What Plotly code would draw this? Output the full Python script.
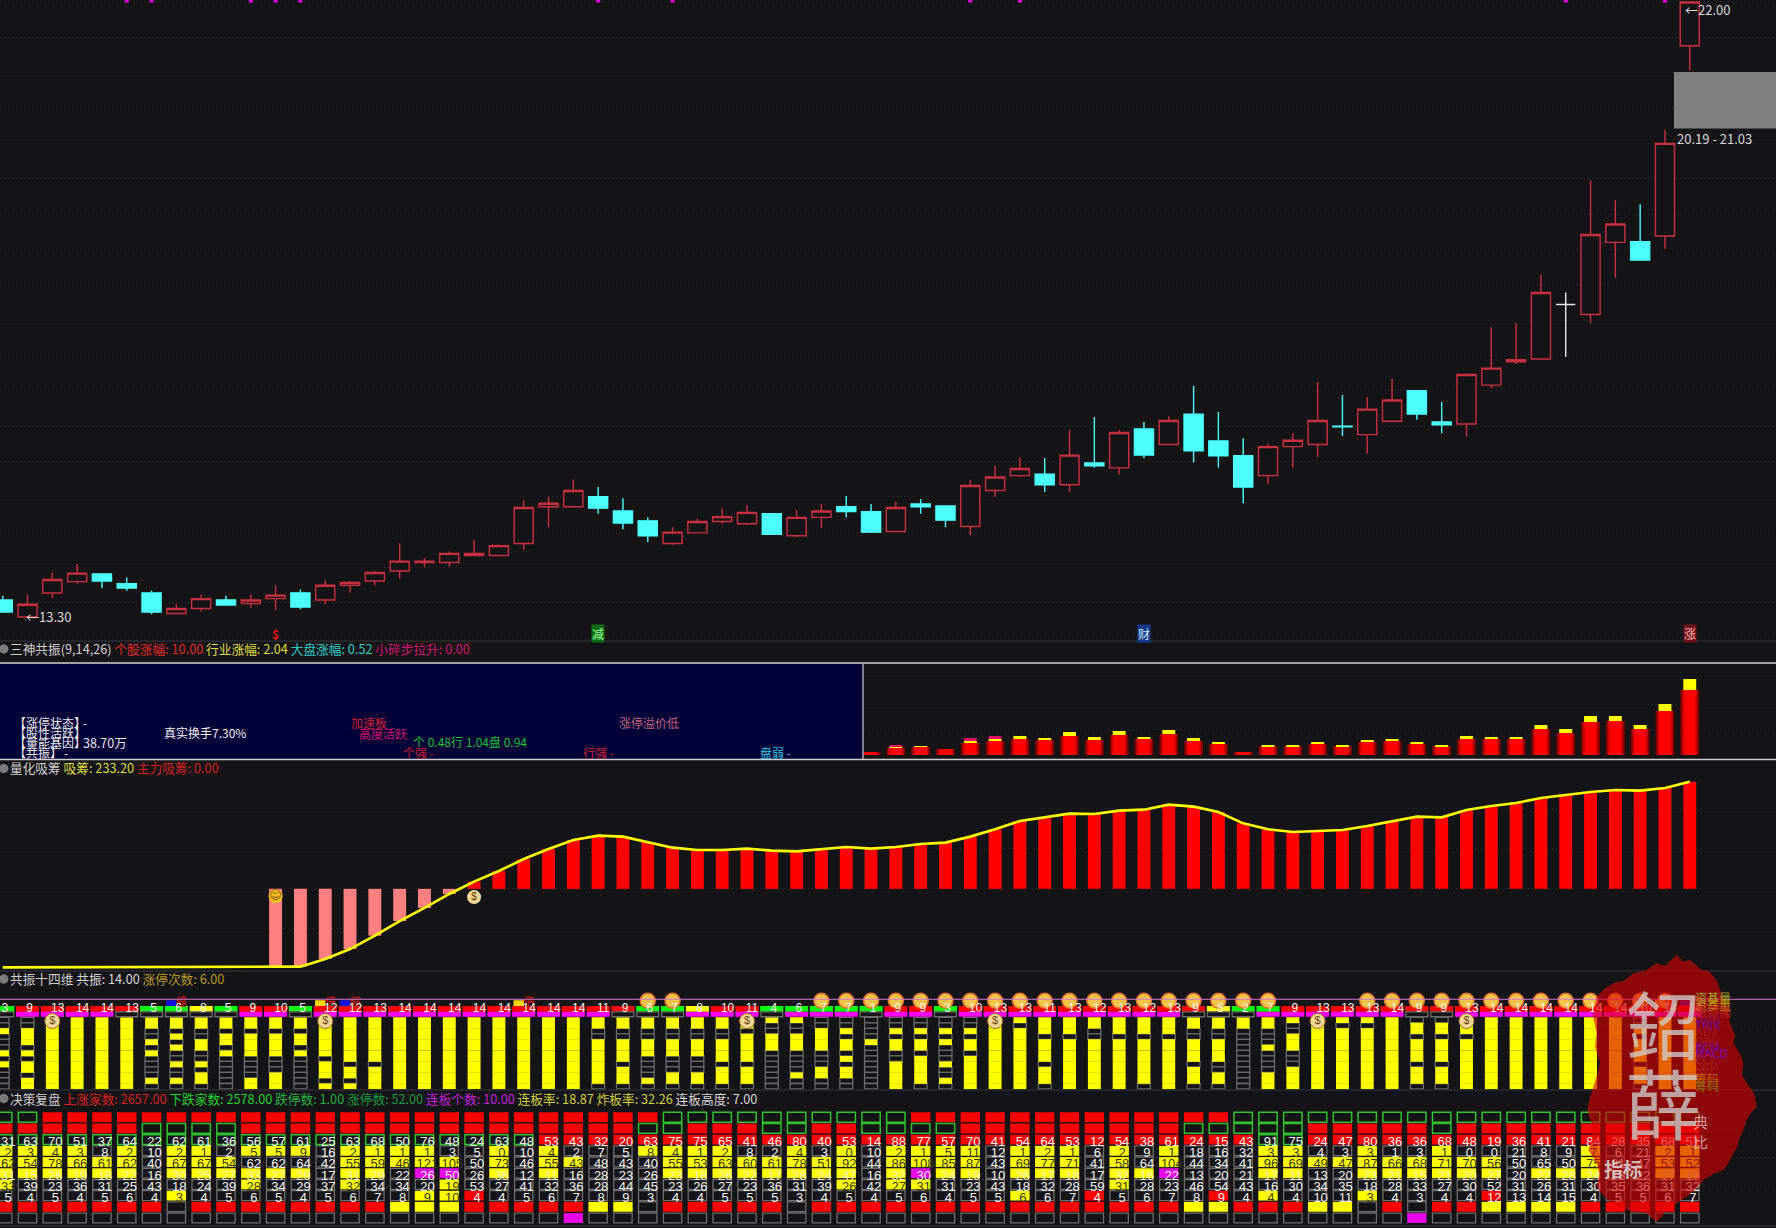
import plotly.graph_objects as go

W, H = 1776, 1228
BG = "#141416"
FONT = "Noto Sans CJK SC"

# ---------- main price panel ----------
opens = [13.54,13.30,13.64,13.80,13.91,13.77,13.64,13.35,13.42,13.54,13.49,13.56,13.64,13.54,13.75,13.81,13.95,14.07,14.07,14.17,14.17,14.34,14.86,14.86,15.00,14.80,14.66,14.34,14.49,14.65,14.62,14.76,14.45,14.71,14.86,14.79,14.51,14.90,14.87,14.58,15.09,15.30,15.32,15.17,15.48,15.41,15.96,15.74,16.17,15.79,15.58,15.30,15.71,15.74,16.00,15.88,16.07,16.50,16.06,16.03,16.58,16.91,16.95,17.72,17.58,18.60,18.61,18.69,21.38]
highs = [13.60,13.62,13.93,14.05,13.92,13.86,13.67,13.48,13.62,13.60,13.62,13.75,13.69,13.82,13.81,13.95,14.34,14.13,14.23,14.39,14.33,14.96,15.00,15.24,15.14,14.98,14.71,14.57,14.69,14.84,14.88,14.76,14.81,14.90,15.01,14.90,14.93,14.97,14.88,15.24,15.44,15.56,15.55,15.95,16.13,15.95,16.06,16.14,16.57,16.20,15.83,15.75,15.90,16.62,16.44,16.41,16.67,16.51,16.34,16.73,17.40,17.46,18.14,17.89,19.48,19.20,19.14,20.19,22.00]
lows = [13.37,13.30,13.57,13.77,13.71,13.67,13.34,13.35,13.38,13.47,13.43,13.40,13.41,13.48,13.64,13.75,13.84,14.01,14.01,14.17,14.17,14.25,14.57,14.86,14.76,14.54,14.36,14.32,14.48,14.62,14.60,14.46,14.43,14.56,14.71,14.49,14.51,14.76,14.57,14.46,15.00,15.28,15.07,15.07,15.41,15.32,15.55,15.74,15.49,15.41,14.91,15.18,15.41,15.56,15.86,15.61,16.07,16.09,15.90,15.85,16.54,16.88,16.95,16.98,17.46,18.10,18.34,18.51,21.03]
closes = [13.37,13.48,13.83,13.92,13.81,13.71,13.37,13.42,13.56,13.47,13.54,13.61,13.44,13.75,13.79,13.93,14.09,14.09,14.20,14.20,14.31,14.85,14.91,15.09,14.84,14.63,14.45,14.50,14.65,14.72,14.78,14.47,14.71,14.80,14.79,14.50,14.85,14.86,14.67,15.16,15.28,15.40,15.17,15.59,15.44,15.91,15.59,16.08,15.65,15.58,15.14,15.71,15.80,16.08,15.99,16.24,16.37,16.17,16.02,16.73,16.82,16.94,17.89,17.72,18.71,18.86,18.35,20.00,22.00]
days = list(range(len(opens)))
doji_days = [63]
top_marks = [5, 6, 10, 11, 12, 24, 27, 39, 41, 63, 67]
price_ticks = [13 + 0.5 * k for k in range(19)]
gap_low, gap_high = 20.19, 21.03
signal_days = [11, 24, 46, 68]
signal_text = ["<b>$</b>", "减", "财", "涨"]
signal_text_color = ["#e01010", "#9aff9a", "#c8e8ff", "#ffb0b0"]
signal_bg = ["rgba(0,0,0,0)", "#0a6a14", "#123a8a", "#701018"]

# ---------- 三神共振 ----------
res_days = list(range(35, 69))
res_stock = [0.46,1.08,1.23,0.92,1.85,2.15,2.46,2.31,2.92,2.31,3.08,2.46,3.23,2.15,1.69,0.46,1.38,1.38,1.69,1.38,2.00,2.15,1.69,1.38,2.46,2.46,2.46,4.00,3.38,5.08,5.23,4.00,6.77,10.00]
res_sector = [0,0.15,0.15,0,0.31,0.31,0.46,0.31,0.62,0.46,0.62,0.31,0.62,0.46,0.31,0,0.15,0.15,0.31,0.15,0.31,0.31,0.31,0.15,0.46,0.31,0.31,0.62,0.62,0.92,0.77,0.62,1.08,1.69]
res_market = [0,0.31,0,0,0.46,0.46] + [0] * 28

# ---------- 量化吸筹 ----------
accum_line = [1.2]*11 + [2.1,2.1,11.6,24.1,40.8,59.1,75.4,92.9,108.3,121.6,136.6,149.1,160.4,165.8,164.6,157.9,150.8,147.9,147.9,149.6,147.1,146.2,148.7,151.6,149.6,151.6,155.4,157.1,164.6,173.7,184.2,188.7,193.3,192.9,197.1,198.3,204.6,202.1,195.4,181.2,173.7,170.4,171.2,172.9,177.9,184.2,189.6,188.7,197.9,202.9,206.7,212.9,217.1,220.4,222.9,222.1,225.4,233.2]
accum_base = 99.3
accum_first_bar = 11
accum_first_red = 19

# ---------- 共振十四维 ----------
res14_labels = [3,9,13,14,14,13,5,6,8,5,9,10,5,12,12,13,14,14,14,14,14,14,14,14,11,9,6,7,8,10,11,4,6,7,7,1,9,9,3,10,13,13,11,13,12,13,12,13,9,8,2,7,9,13,13,13,14,9,9,13,14,14,14,14,14,14,10,14,14]
res14_top = "GRRRRRGGYGRRGRRRRRRRRRRRRRGGYRRGGGGGRRGRRRRRRRRRRYGGRRRRRRRRRRRRRRRRR"[:69]
res14_second = "HMMMMHHHHHMMHMMMMMMMMMMMMHHHMMMHMMMHMMHMMMMMMMMMHHHMMMMMMHHMMMMMMMMMM"[:69]
res14_cells = ["HHYHHHYHYHHHH","HHYYYHYHYYHYY","YYYYYYYYYYYYY","YYYYYYYYYYYYY","YYYYYYYYYYYYY","YYYYYYYYYYYYY","YYHHYHYHHHHYH","YYHYHYHHYHHYH","YYHHYYHHYHYYH","YYHYYHYHHHHHH","YYHYYYYHHHHYY","YYHYYYYHHHYYY","YYHYYHYHHHHHH","YYYYYYYHYYYHY","YYYYYYYYHYYHY","YYYYYYYYHYYYY","YYYYYYYYYYYYY","YYYYYYYYYYYYY","YYYYYYYYYYYYY","YYYYYYYYYYYYY","YYYYYYYYYYYYY","YYYYYYYYYYYYY","YYYYYYYYYYYYY","YYYYYYYYYYYYY","YYHHYYYYYYYYH","YYHHYYYYHYYYH","YYHHYYYHHHHYH","YYHHYYYHHHYYH","YYHHYYYHHHYYH","YYHHYYYYHYYYH","YYHYYYYYHYYYH","YHHYYYHHHHHHH","YHHYYYHHHHYHH","HHYYYYHHHYYHH","HHYHYYHYHYYHH","HHHHYHHHHHHHH","HHYHYYHHYYYYY","HHYHYYHYYYYYH","HHYHYHHHYHHYH","HHYHYYHYYYYYY","YYYYYYYYYYYYY","YHYYYYYYYYYYY","YYYHYYYYHYYYH","YYYHYYYYYYYYY","YYHHYYYYYYYYY","YYYHYYYYYYYYY","YYYHYYYYYYYYH","YYYHYYYYYYYYY","YYHHYYYYHYYYH","YYHHYYYYHHYYH","YYHHHHHHHHHHH","YYHHHYHHHHYYY","YHHYYYHHHYYYY","YYYYYYYYYYYYY","YHYYYYYYYYYYY","YHYYYYYYYYYYY","YYYYYYYYYYYYY","HYYHYYYYHYYYH","HYYHYYYYHYYYH","YYYHYYYYYYYYY","YYYYYYYYYYYYY","YYYYYYYYYYYYY","YYYYYYYYYYYYY","YYYYYYYYYYYYY","YYYYYYYYYYYYY","YYYYYYYYYYYYY","HHYHYYYYHYYYH","YYYYYYYYYYYYY","YYYYYYYYYYYYY"]
smile_days = [26,27,33,34,35,36,37,38,39,40,41,42,43,44,45,46,47,48,49,50,51,55,56,57,58,59,60,61,62,63,64,65,66,67]
bag_days = [2,13,30,40,53,59]
flag_days = [7,13,14,21,67,68]
flag_text = ["缩","倍","缩","倍","倍","缩"]
flag_color = ["#1010e0","#ffd800","#1010e0","#ffd800","#ffd800","#5000a0"]

# ---------- 决策复盘 ----------
board_cells = ["GRGYYYYHRH","GRGYYYHHRH","RRGYYYHHRH","RRGYYYHHRH","RRGHYYHHRH","RRGYYYHHRH","RGGHHHHHRH","RGGYYYHYHH","RGGYYYHHRH","RGGHYYHHRH","RRGYHYYHRH","RRGYHYHHRH","RRGYHYHHRH","RRGHHHHHRH","RRGYYYYHRH","RRGYYYHHRH","RRGYYHHHYH","RRGYYMHYYH","RRGHYMYYYH","RRGHHHHRRH","RRGYYYHHRH","RRGHHHHHRH","RRRYYYHHRH","RRRHYHHHRM","RRRHHHHHYH","RRRHHHHHYH","RGRYHHHHHH","GGRYYYHHRH","GRRYYYHHRH","GRRYYYHHRH","GRRHYYHHRH","GGRHYYHHRH","GGRYYYHHHH","GRRHYYHHRH","GRRYYYYHRH","GGRHHHHHRH","GGRYYYYHRH","RGRYYMYHRH","RGRYYYHHRH","RRRYYYHHRH","RRRHHHHHRH","RRRYYYHYRH","RRRYYYHHRH","RRRYYYHHRH","RRRHHHHRRH","RRRYYYYHRH","RRRHHYHHRH","RRRYYMHHRH","RGRHHHHHYH","RGRHHHHRYH","GGRHHHHHRH","GGGYYYHYRH","GGGYYYHHRH","GRRHYHHHYH","GRRHYHHHYH","GRRYYYHYHH","GRRHYYHHRH","GRRHYYHHHM","GGRYYYHHRH","GRRHYYHHRH","GRRHYYHRYH","GRRHHHHHYH","GRRHHYHHYH","GRRHHYHHYH","GRRYYYHHRH","GRRHHHHHRH","GRRHHHHHRH","GRRYYYHHRH","GRRYYYHHRH"]
board_numbers = [[31,2,62,31,33,5],[63,3,54,15,39,4],[70,4,78,26,23,5],[51,3,66,19,36,4],[37,8,61,18,31,5],[64,2,62,22,25,6],[22,10,40,16,43,4],[62,2,67,30,18,3],[61,1,67,25,24,4],[36,2,54,27,39,5],[56,5,62,33,28,6],[57,5,62,27,34,5],[61,9,64,29,29,4],[25,16,42,17,37,5],[63,2,55,31,32,6],[68,1,59,29,34,7],[50,1,46,22,34,8],[76,1,121,26,20,9],[48,3,105,50,19,10],[24,5,50,26,53,4],[63,0,73,36,27,4],[48,10,46,12,41,5],[53,4,55,11,32,6],[43,2,43,16,36,7],[32,7,48,28,28,8],[20,5,43,23,44,9],[63,8,40,26,45,3],[75,4,55,23,23,4],[75,1,53,18,26,4],[65,2,63,26,27,5],[41,8,60,22,23,5],[46,2,61,17,36,5],[80,4,78,28,31,3],[40,3,51,24,39,4],[53,0,92,47,26,5],[14,10,44,16,42,4],[88,2,86,32,27,5],[77,1,108,30,31,6],[57,5,85,24,31,4],[70,11,87,19,23,5],[41,12,43,10,43,5],[54,1,69,26,18,6],[64,2,77,17,32,6],[53,1,71,18,28,7],[12,6,41,17,59,4],[54,2,58,32,31,5],[38,9,64,16,28,6],[61,1,104,22,23,7],[24,18,44,13,46,8],[15,16,34,20,54,9],[43,32,41,21,43,4],[91,3,96,17,16,4],[75,3,69,11,30,4],[24,4,49,13,34,10],[47,3,47,20,35,11],[80,3,87,23,18,3],[36,1,66,21,28,4],[36,3,68,15,33,3],[68,1,71,21,27,4],[48,0,70,20,30,4],[19,0,56,27,52,12],[36,21,50,20,31,13],[41,8,65,22,26,14],[21,9,50,28,31,15],[84,7,75,24,30,4],[28,6,81,13,35,5],[35,21,47,22,36,5],[68,2,53,17,31,6],[51,1,52,19,32,7]]

# ---------- pixel helpers for layout only ----------
def fy(p):
    return 1 - p / H
def fx(p):
    return p / W
STEP = 24.81
X0 = 2.7
x_range = [(0 - X0) / STEP, (W - X0) / STEP]

def dom(top, bottom):
    return [fy(bottom), fy(top)]

fig = go.Figure()

# price panel
def candle(o, h, l, c, inc, dec, incfill, decfill):
    return go.Candlestick(x=days, open=o, high=h, low=l, close=c, yaxis="y", whiskerwidth=0,
                          increasing=dict(line=dict(color=inc, width=1.4), fillcolor=incfill),
                          decreasing=dict(line=dict(color=dec, width=1.4), fillcolor=decfill),
                          showlegend=False, hoverinfo="skip")
keep = lambda arr: [None if d in doji_days else v for d, v in zip(days, arr)]
only = lambda arr: [v if d in doji_days else None for d, v in zip(days, arr)]
fig.add_trace(candle(keep(opens), keep(highs), keep(lows), keep(closes), "#c8303f", "#4dffff", BG, "#4dffff"))
fig.add_trace(candle(only(opens), only(highs), only(lows), only(closes), "#e8e8e8", "#e8e8e8", BG, BG))
fig.add_trace(go.Scatter(x=top_marks, y=[22.02] * len(top_marks), mode="markers", yaxis="y",
                         marker=dict(symbol="square", size=4, color="#e000e0"), cliponaxis=False, hoverinfo="skip"))

# resonance bars
def res_bar(y, base, color, width):
    return go.Bar(x=res_days, y=y, base=base, width=width, marker=dict(color=color, line=dict(width=0)),
                  yaxis="y2", hoverinfo="skip")
for col, w in (("#7c0000", 0.76), ("#c40000", 0.62), ("#ff0000", 0.46)):
    fig.add_trace(res_bar(res_stock, [0] * len(res_days), col, w))
fig.add_trace(res_bar(res_sector, res_stock, "#ffff00", 0.52))
fig.add_trace(res_bar(res_market, [a + b for a, b in zip(res_stock, res_sector)], "#e0106a", 0.52))

# accumulation
fig.add_trace(go.Scatter(x=days, y=accum_line, mode="lines", yaxis="y3", line=dict(color="#ffff00", width=2.6), hoverinfo="skip"))
bx = days[accum_first_bar:]
by = [v - accum_base for v in accum_line[accum_first_bar:]]
fig.add_trace(go.Bar(x=bx, y=by, base=[accum_base] * len(bx), width=0.52, yaxis="y3", hoverinfo="skip",
                     marker=dict(color=["#ff8080" if d < accum_first_red else "#ff0000" for d in bx], line=dict(width=0))))
fig.add_trace(go.Scatter(x=[accum_first_bar], y=[90], mode="markers+text", yaxis="y3", text=["☺"], textposition="middle center",
                         textfont=dict(color="#805000", size=12, family="DejaVu Sans"),
                         marker=dict(size=14, color="#f5c020"), hoverinfo="skip"))
fig.add_trace(go.Scatter(x=[accum_first_red], y=[89], mode="markers+text", yaxis="y3", text=["$"], textposition="middle center",
                         textfont=dict(color="#604000", size=10, family="Liberation Sans"),
                         marker=dict(size=14, color="#f2d898"), hoverinfo="skip"))

# 14-dimension panel
fig.add_trace(go.Scatter(x=smile_days, y=[-3.0] * len(smile_days), mode="markers", yaxis="y4",
                         marker=dict(size=15, color="#f6c448", line=dict(color="#e07030", width=1.5)), hoverinfo="skip"))

def cell_bar(xs, bases, color, width, height, axis, line_color=None, line_w=0):
    return go.Bar(x=xs, y=[height] * len(xs), base=bases, width=width, yaxis=axis, hoverinfo="skip",
                  marker=dict(color=color, line=dict(color=line_color or color, width=line_w)))

hx, hb, yx, yb = [], [], [], []
for d, s in zip(days, res14_cells):
    for r, c in enumerate(s):
        if c == "Y":
            yx.append(d); yb.append(r)
        else:
            hx.append(d); hb.append(r)
fig.add_trace(cell_bar(hx, hb, BG, 0.52, 1, "y4", "#6a6a6a", 1.3))
fig.add_trace(cell_bar(yx, yb, "#ffff00", 0.52, 1.04, "y4"))

top_colors = {"R": "#ff0000", "G": "#00ff00", "Y": "#ffff00"}
for code, colr in top_colors.items():
    xs = [d for d, c in zip(days, res14_top) if c == code]
    fig.add_trace(cell_bar(xs, [-2.05] * len(xs), colr, 0.93, 1.05, "y4"))
xs = [d for d, c in zip(days, res14_second) if c == "M"]
fig.add_trace(cell_bar(xs, [-1.0] * len(xs), "#ff00ff", 0.93, 0.9, "y4"))
xs = [d for d, c in zip(days, res14_second) if c == "H"]
fig.add_trace(cell_bar(xs, [-1.0] * len(xs), BG, 0.88, 0.9, "y4", "#6a6a6a", 1.3))
fig.add_trace(go.Bar(x=[d - 0.2 for d in flag_days], y=[1.05] * len(flag_days), base=[-3.1] * len(flag_days), width=0.42,
                     yaxis="y4", hoverinfo="skip", marker=dict(color=flag_color, line=dict(width=0))))
fig.add_trace(go.Scatter(x=[d + 0.2 for d in flag_days], y=[-2.6] * len(flag_days), text=flag_text, mode="text", yaxis="y4",
                         textfont=dict(color="#e01010", size=11, family=FONT), cliponaxis=False, hoverinfo="skip"))
fig.add_trace(go.Scatter(x=[d - 0.05 for d in days], y=[-1.5] * len(days), text=[str(v) for v in res14_labels], mode="text",
                         textposition="middle right", yaxis="y4", textfont=dict(color="#f4f4f4", size=12, family="Liberation Sans"), hoverinfo="skip"))
fig.add_trace(go.Scatter(x=bag_days, y=[0.67] * len(bag_days), mode="markers+text", yaxis="y4", text=["$"] * len(bag_days),
                         textposition="middle center", textfont=dict(color="#6a4a10", size=11, family="Liberation Sans"),
                         marker=dict(size=15, color="#f2d898", line=dict(color="#a07020", width=1)), hoverinfo="skip"))

# board panel
board_styles = {"R": ("#ff0000", None, 0, 0.78), "Y": ("#ffff00", None, 0, 0.78), "M": ("#e800e8", None, 0, 0.78),
                "H": (BG, "#6e6e6e", 1.3, 0.74), "G": (BG, "#30c030", 1.5, 0.74)}
for code, (colr, lc, lw, wd) in board_styles.items():
    xs, bs = [], []
    for d, s in zip(days, board_cells):
        for r, c in enumerate(s):
            if c == code:
                xs.append(d); bs.append(r)
    fig.add_trace(cell_bar(xs, bs, colr, wd, 0.88, "y5", lc, lw))
tx, ty, tt, tc = [], [], [], []
for d, s, nums in zip(days, board_cells, board_numbers):
    for k, n in enumerate(nums):
        cell = s[k + 2]
        tx.append(d + (0.22 if d == 0 else 0.12)); ty.append(k + 2 + 0.72); tt.append(str(n))
        if cell == "Y":
            tc.append("#f2f2c8" if k == 3 else "#3a3a20")
        else:
            tc.append("#f4f4f4")
fig.add_trace(go.Scatter(x=tx, y=ty, text=tt, mode="text", yaxis="y5", hoverinfo="skip",
                         textfont=dict(color=tc, size=13, family="Liberation Sans")))

# ---------- shapes ----------
shapes = []
def hline(y, color, width=1.2):
    shapes.append(dict(type="line", xref="paper", yref="paper", x0=0, x1=1, y0=fy(y), y1=fy(y), line=dict(color=color, width=width)))
def box(x0, y0, x1, y1, color):
    shapes.append(dict(type="rect", xref="paper", yref="paper", x0=fx(x0), x1=fx(x1), y0=fy(y0), y1=fy(y1),
                       fillcolor=color, line=dict(width=0), layer="above"))

box(0, 664, 863, 759, "#000038")
shapes.append(dict(type="rect", xref="paper", yref="y", x0=fx(1674), x1=1, y0=gap_low + 0.02, y1=gap_high - 0.02, fillcolor="#808080", line=dict(width=0)))
shapes.append(dict(type="line", xref="paper", yref="paper", x0=fx(863), x1=fx(863), y0=fy(664), y1=fy(759), line=dict(color="#d0d0d0", width=1.2)))
hline(641, "#33363a"); hline(663, "#d0d0d0", 1.5); hline(759.5, "#d0d0d0", 1.5)
hline(971, "#33363a"); hline(1090, "#33363a"); hline(1226, "#33363a")
shapes.append(dict(type="line", xref="paper", yref="y4", x0=0, x1=1, y0=-3.27, y1=-3.27, line=dict(color="#d078d8", width=1)))
for yy in (649, 768.5, 979, 1098.5):
    shapes.append(dict(type="circle", xref="paper", yref="paper", x0=fx(-1), x1=fx(8.5), y0=fy(yy - 4.7), y1=fy(yy + 4.7),
                       fillcolor="#7a7a7a", line=dict(width=0)))

blob = [(770,40),(795,48),(830,15),(850,35),(870,30),(905,60),(925,62),(950,90),(962,125),(975,150),(985,190),(990,220),(1005,255),(1000,280),(1022,315),(1030,340),(1026,375),(1040,400),(1062,430),(1070,470),(1052,490),(1040,510),(1030,540),(1020,560),(1012,590),(1000,610),(985,640),(970,660),(940,672),(910,690),(885,720),(860,740),(830,760),(800,780),(785,800),(770,815),(740,790),(690,782),(650,770),(615,742),(590,710),(598,672),(590,640),(565,600),(578,560),(575,520),(562,480),(570,440),(585,395),(600,340),(585,290),(590,250),(578,195),(590,140),(612,118),(640,100),(672,92),(700,70),(735,62)]
path = "M " + " L ".join(f"{fx(1400 + a / 3):.5f},{fy(950 + b / 3):.5f}" for a, b in blob) + " Z"
shapes.append(dict(type="path", xref="paper", yref="paper", path=path, fillcolor="rgba(215,0,0,0.62)", line=dict(width=0), layer="above"))

# ---------- texts ----------
ann = []
def label(x, y, text, color="#dcdcdc", size=12, anchor="left", family=FONT):
    ann.append(dict(xref="paper", yref="paper", x=fx(x), y=fy(y), text=text, showarrow=False, xanchor=anchor, yanchor="middle",
                    align="left", font=dict(color=color, size=size, family=family), borderpad=0, borderwidth=0))
def spans(parts):
    return " ".join(f'<span style="color:{c}">{t}</span>' for t, c in parts)

HS = 12.7
label(10, 648, spans([("三神共振(9,14,26)", "#cfcfcf"), ("个股涨幅: 10.00", "#e02828"), ("行业涨幅: 2.04", "#dcdc40"), ("大盘涨幅: 0.52", "#30c8c8"), ("小碎步拉升: 0.00", "#c8146c")]), size=HS)
label(10, 768, spans([("量化吸筹", "#cfcfcf"), ("吸筹: 233.20", "#dcdc40"), ("主力吸筹: 0.00", "#d02020")]), size=HS)
label(10, 978, spans([("共振十四维", "#cfcfcf"), ("共振: 14.00", "#d8d8d8"), ("涨停次数: 6.00", "#b89820")]), size=HS)
label(10, 1098, spans([("决策复盘", "#cfcfcf"), ("上涨家数: 2657.00", "#d82020"), ("下跌家数: 2578.00", "#20d030"), ("跌停数: 1.00", "#20b040"), ("涨停数: 52.00", "#109840"), ("连板个数: 10.00", "#c020d8"), ("连板率: 18.87", "#d0d040"), ("炸板率: 32.26", "#d0d040"), ("连板高度: 7.00", "#d8d8d8")]), size=HS)

label(26, 616, "←13.30", "#d8d8d8", 13)
label(1685, 9, "←22.00", "#d8d8d8", 13)
label(1677, 139, "20.19 - 21.03", "#d8d8d8", 13)

label(14, 722, "【涨停状态】", "#e8e8e8"); label(83, 722, "-", "#e8e8e8")
label(14, 732, "【股性活跃】", "#e8e8e8")
label(14, 742, "【量能基因】", "#e8e8e8"); label(83, 742, "38.70万", "#e8e8e8", 12.5)
label(14, 752, "【共振】", "#e8e8e8"); label(64, 752, "-", "#e8e8e8")
label(205, 732, "真实换手7.30%", "#f0f0f0", 12, "center")
label(369, 722, "加速板", "#d02030", 12, "center")
label(383, 733, "高度活跃", "#d0106a", 12, "center")
label(413, 741, "个 0.48行 1.04盘 0.94", "#20c030", 12)
label(403, 752, "个强 -", "#d02030"); label(583, 752, "行强 -", "#d02030"); label(760, 752, "盘弱 -", "#30c8e0")
label(649, 722, "涨停溢价低", "#c06878", 12, "center")

for d, t, c, b in zip(signal_days, signal_text, signal_text_color, signal_bg):
    ann.append(dict(xref="x", yref="y", x=d, y=13.07, text=t, showarrow=False, bgcolor=b, borderpad=0,
                    font=dict(color=c, size=12, family=FONT)))

# menu list beside the watermark
for yy, t, c in [(997, "资基量", "#a0a020"), (1004, "资基量", "#c09010"), (1011, "涨停强", "#c02020"), (1018, "HMA", "#901040"),
                 (1024, "TRIX", "#7000a0"), (1030, "KDJ", "#b01818"), (1040, "OBV", "#b01818"), (1046, "RCM", "#7000a0"),
                 (1052, "MACD", "#8000b0"), (1058, "CCI", "#b01818"), (1065, "WIM", "#b01818"), (1072, "RSI", "#b01818"),
                 (1078, "筹码", "#c06000"), (1085, "筹码", "#907000")]:
    label(1695, yy, t, c, 12)

ww = "rgba(205,205,205,0.78)"
label(1663, 1021, "鉊", ww, 74, "center")
label(1663, 1101, "薛", ww, 76, "center")
label(1623, 1168, "<b>指标</b>", "rgba(220,220,220,0.85)", 19, "center")
label(1700, 1121, "典", "rgba(225,190,190,0.8)", 15, "center")
label(1700, 1141, "比", "rgba(225,190,190,0.8)", 15, "center")

# ---------- axes ----------
GRID = "#2a2a2c"
def yaxis(top, bottom, rng, ticks, rev=False):
    ax = dict(domain=dom(top, bottom), range=rng, showgrid=True, gridcolor=GRID, griddash="1px,3px", gridwidth=1, tickmode="array", tickvals=ticks,
              showticklabels=False, ticks="", zeroline=False, showline=False, anchor="x", fixedrange=True)
    return ax

K = 0.014146
fig.update_layout(
    width=W, height=H, margin=dict(l=0, r=0, t=0, b=0), autosize=False,
    paper_bgcolor=BG, plot_bgcolor=BG, showlegend=False, barmode="overlay", boxgap=0.23, boxgroupgap=0, boxmode="overlay", hovermode=False,
    xaxis=dict(domain=[0, 1], range=x_range, visible=False, rangeslider=dict(visible=False), fixedrange=True, anchor="y"),
    yaxis=yaxis(0, 640, [13.3 - 23 * K, 13.3 + 617 * K], price_ticks),
    yaxis2=yaxis(664, 758.5, [-(758.5 - 755) / 6.5, (755 - 664) / 6.5], [3.95, 7.8, 11.65]),
    yaxis3=yaxis(776, 970, [(968.3 - 970) * 1.25, (968.3 - 776) * 1.25], [50, 100, 150, 200]),
    yaxis4=yaxis(990, 1089.5, [(1089.5 - 1017.3) / 5.515, (990 - 1017.3) / 5.515], [1.4]),
    yaxis5=yaxis(1108, 1225, [(1225 - 1112.3) / 11.2, (1108 - 1112.3) / 11.2], [1.52, 4.02, 6.52]),
    shapes=shapes, annotations=ann,
)
fig.write_html("out.html", config=dict(displayModeBar=False),
               post_script=f"document.body.style.margin='0';document.body.style.background='{BG}';")
